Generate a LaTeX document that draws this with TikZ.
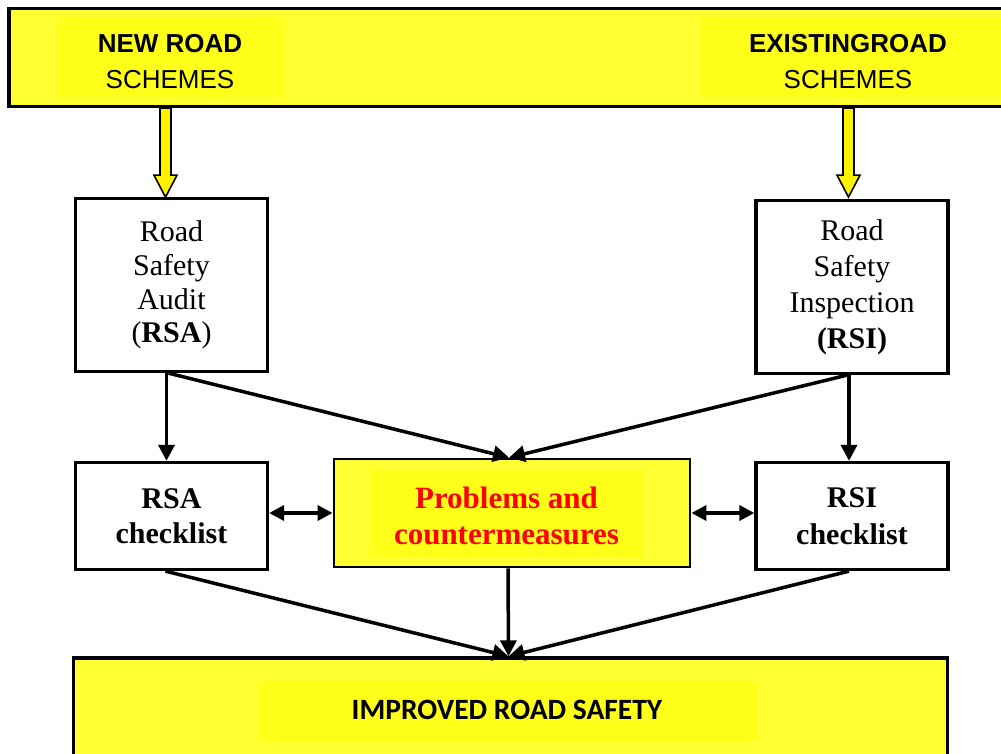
\documentclass[tikz,border=0pt]{standalone}
\usepackage{fontspec}
\setmainfont{Liberation Serif}
\newfontfamily\arialfont{Liberation Sans}
\newfontfamily\carlitofont{Carlito}
\usetikzlibrary{arrows.meta}

\definecolor{boxyellow}{HTML}{FFFF33}
\definecolor{hiyellow}{HTML}{FFFF1A}
\definecolor{alertred}{HTML}{FF0000}

\tikzset{
  panel/.style={draw=black, line width=3.3pt, inner sep=0pt, align=center},
  yellowpanel/.style={panel, fill=boxyellow},
  whitepanel/.style={panel, fill=white},
  highlight/.style={fill=hiyellow, inner sep=0pt, draw=none},
  tip/.style={},
  link/.style={line width=3.5pt, -{Triangle[length=16pt,width=16pt]}},
  twoway/.style={line width=3.5pt, {Triangle[length=15pt,width=15pt]}-{Triangle[length=15pt,width=15pt]}},
  feedarrow/.style={fill=yellow, draw=black, line width=1.6pt, line join=miter},
  serif30/.style={font=\fontsize{30}{33.7}\selectfont},
  arial26/.style={font=\arialfont\fontsize{26}{36}\selectfont, align=center},
}

\begin{document}
\begin{tikzpicture}[x=1pt,y=-1pt]
\useasboundingbox (0,0) rectangle (1001,753);
\clip (0,0) rectangle (1001,753);

% ---------- scheme banner ----------
\node[yellowpanel, minimum width=995pt, minimum height=98pt] (top) at (506.5,57.5) {};
\node[highlight, minimum width=228pt, minimum height=81pt] (newhl) at (171,57.5) {};
\node[highlight, minimum width=302pt, minimum height=81pt] (exhl) at (850,57.5) {};
\node[arial26] (newtxt) at (170,62) {\textbf{NEW ROAD}\\SCHEMES};
\node[arial26] (extxt) at (848,62) {\textbf{EXISTINGROAD}\\SCHEMES};

% ---------- audit / inspection ----------
\node[whitepanel, minimum width=192pt, minimum height=173pt, serif30] (rsa) at (171.5,285)
  {Road\\Safety\\Audit\\(\textbf{RSA})};
\node[whitepanel, minimum width=192pt, minimum height=173pt,
      font=\fontsize{30}{36}\selectfont] (rsi) at (852,287)
  {Road\\Safety\\Inspection\\\textbf{(RSI)}};

% ---------- checklists and measures ----------
\node[whitepanel, minimum width=192pt, minimum height=107pt,
      font=\bfseries\fontsize{30}{35.5}\selectfont] (rsachk) at (171.5,516) {RSA\\checklist};
\node[whitepanel, minimum width=192pt, minimum height=107pt,
      font=\bfseries\fontsize{30}{36.5}\selectfont] (rsichk) at (852,516) {RSI\\checklist};
\node[yellowpanel, line width=2.8pt, minimum width=356pt, minimum height=108pt] (prob) at (512,513) {};
\node[highlight, minimum width=273pt, minimum height=87pt] (probhl) at (506.5,513.5) {};
\node[font=\bfseries\fontsize{31}{36}\selectfont, text=alertred, align=center] (probtxt)
  at (506.5,516) {Problems and\\countermeasures};

% ---------- outcome ----------
\node[yellowpanel, minimum width=874pt, minimum height=104pt] (result) at (510.5,710) {};
\node[highlight, minimum width=500pt, minimum height=60pt] (resulthl) at (508,711) {};
\node[font=\carlitofont\bfseries\fontsize{29.5}{34}\selectfont] (resulttxt) at (507,710) {IMPROVED ROAD SAFETY};

% ---------- hollow feed arrows from the banner ----------
\coordinate (leftfeed) at ([xshift=-6pt]rsa.north);
\coordinate (rightfeed) at ([xshift=-3.5pt]rsi.north);
\draw[feedarrow] (leftfeed |- top.south) ++(-5.5,0) -- ++(0,67) -- ++(-6,0)
  -- ++(11.5,22) -- ++(11.5,-22) -- ++(-6,0) -- ++(0,-67) -- cycle;
\draw[feedarrow] (rightfeed |- top.south) ++(-5.5,0) -- ++(0,67) -- ++(-6,0)
  -- ++(11.5,22) -- ++(11.5,-22) -- ++(-6,0) -- ++(0,-67) -- cycle;

% ---------- connectors ----------
\draw[link] ([xshift=-5pt]rsa.south) -- ([xshift=-5pt]rsachk.north);
\draw[link] ([xshift=-3pt]rsi.south) -- ([xshift=-3pt]rsichk.north);
\draw[link] ([xshift=-3pt]rsa.south) -- ([xshift=-3pt]prob.north);
\draw[link] ([xshift=-5pt]rsi.south) -- ([xshift=-3pt]prob.north);
\draw[twoway] (rsachk.east |- prob.west) -- (prob.west);
\draw[twoway] (prob.east) -- (rsichk.west |- prob.east);
\draw[link] ([xshift=-6pt]rsachk.south) -- ([xshift=-2pt]result.north);
\draw[link] ([xshift=-4pt]prob.south) -- ([xshift=-2pt]result.north);
\draw[link] ([xshift=-3pt]rsichk.south) -- ([xshift=-2pt]result.north);
\end{tikzpicture}
\end{document}
